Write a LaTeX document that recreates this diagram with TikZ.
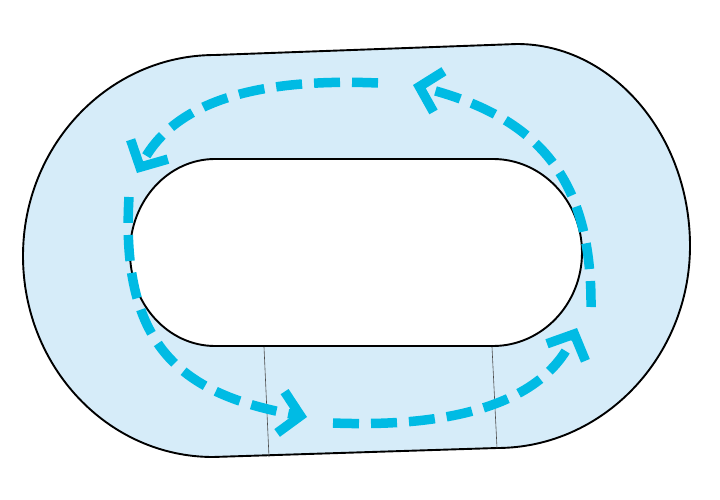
\documentclass[tikz,border=0pt]{standalone}
\usepackage{tikz}
\usepackage{xcolor}
\usetikzlibrary{arrows.meta}
\definecolor{pista}{RGB}{214,236,249}
\definecolor{fluxo}{RGB}{0,187,228}

\begin{document}
\begin{tikzpicture}[x=1pt, y=-1pt,
    borda/.style={draw=black, line width=1.9pt},
    corte/.style={draw=black!70, line width=0.6pt},
    fluxo/.style={draw=fluxo, line width=9.5pt, dash pattern=on 26pt off 12pt,
        -{Straight Barb[length=20pt, width=42pt]}}]
    \useasboundingbox (0,0) rectangle (720,500);
    % Track (outer contour minus the inner stadium)
    \path[fill=pista, even odd rule, borda]
        (215,55) -- (517,44)
        .. controls (612,44) and (690,135) .. (690,246)
        .. controls (690,357) and (603,448) .. (497,448)
        -- (213,457)
        .. controls (108,457) and (23,367) .. (23,256)
        .. controls (23,145) and (109,55) .. (215,55) -- cycle
        (215,159) -- (493,159)
        .. controls (542,159) and (582,201) .. (582,252.5)
        .. controls (582,304) and (542,346) .. (493,346)
        -- (215,346)
        .. controls (168,346) and (130,304) .. (130,252.5)
        .. controls (130,201) and (168,159) .. (215,159) -- cycle;
    % Section lines on the straight part
    \draw[corte] (264,347) -- (269,457);
    \draw[corte] (492,347) -- (497,448);
    % Ends of the flow arrows
    \coordinate (topoIni) at (378,83);
    \coordinate (topoFim) at (137,173);
    \coordinate (esqIni) at (129,197);
    \coordinate (esqFim) at (307,417);
    \coordinate (baseIni) at (333,423);
    \coordinate (baseFim) at (577,328);
    \coordinate (dirIni) at (591,307);
    \coordinate (dirFim) at (413,85);
    % Flow arrows
    \draw[fluxo] (topoIni) .. controls (260,78) and (175,100) .. (topoFim);
    \draw[fluxo] (esqIni) .. controls (120,350) and (185,395) .. (esqFim);
    \draw[fluxo] (baseIni) .. controls (460,428) and (545,400) .. (baseFim);
    \draw[fluxo] (dirIni) .. controls (592,170) and (530,115) .. (dirFim);
\end{tikzpicture}
\end{document}
